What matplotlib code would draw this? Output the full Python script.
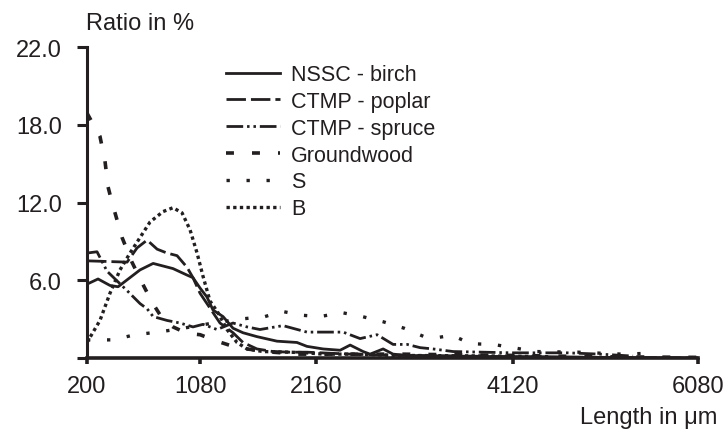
import numpy as np
import matplotlib
matplotlib.use("Agg")
import matplotlib.pyplot as plt

plt.rcParams['font.family'] = ['Liberation Sans', 'DejaVu Sans']

# fibre length (um) and ratio (%)
nssc_len = [200, 286, 379, 442, 613, 715, 870, 979, 1025, 1080, 1145, 1201, 1294, 1387, 1480,
            1610, 1796, 1982, 2075, 2230, 2399, 2499, 2628, 2697, 2827, 2926, 3066, 3500, 4120,
            5000, 6080]
nssc_val = [5.7, 6.1, 5.6, 5.5, 6.8, 7.3, 6.9, 6.4, 6.2, 5.4, 4.7, 3.7, 3.2, 2.3, 1.95,
            1.65, 1.3, 1.2, 0.9, 0.7, 0.6, 1.0, 0.5, 0.3, 0.7, 0.3, 0.2, 0.15, 0.1,
            0.05, 0.0]

poplar_len = [200, 512, 590, 668, 746, 823, 901, 979, 1025, 1080, 1201, 1266, 1387, 1480,
              1610, 1759, 1917, 2075, 2500, 3000, 4120, 6080]
poplar_val = [7.5, 7.4, 8.5, 9.1, 8.4, 8.1, 7.9, 7.0, 6.2, 5.0, 3.5, 2.7, 1.95, 1.2,
              0.7, 0.5, 0.45, 0.45, 0.3, 0.2, 0.1, 0.0]

spruce_len = [200, 278, 356, 512, 613, 668, 715, 823, 924, 1025, 1108, 1238, 1387, 1517,
              1638, 1852, 2075, 2269, 2429, 2598, 2767, 2926, 3066, 3195, 3324, 3523, 3822,
              4120, 4692, 5041, 5390]
spruce_val = [8.1, 8.2, 6.7, 5.2, 4.2, 3.8, 3.2, 2.9, 2.7, 2.4, 2.6, 2.2, 2.7, 2.4,
              2.2, 2.5, 2.0, 2.0, 2.0, 1.5, 1.8, 1.05, 1.05, 0.8, 0.7, 0.5, 0.45,
              0.4, 0.4, 0.3, 0.15]

ground_len = [200, 301, 340, 364, 395, 473, 550, 629, 707, 790, 870, 979, 1080, 1238, 1387,
              1517, 1759, 2000, 2500, 3000, 4120, 5000, 6080]
ground_val = [18.6, 17.1, 15.2, 13.2, 12.0, 9.3, 7.4, 5.8, 4.3, 3.0, 2.4, 1.9, 1.8, 1.3, 0.9,
              0.7, 0.45, 0.3, 0.3, 0.3, 0.2, 0.1, 0.05]

s_len = [200, 403, 574, 754, 950, 1200, 1450, 1685, 1843, 2029, 2200, 2419, 2618, 2827,
         3036, 3235, 3384, 3513, 3702, 3921, 4120, 4353, 4808, 5274, 5496]
s_val = [1.4, 1.4, 1.8, 2.0, 2.3, 2.7, 3.0, 3.2, 3.6, 3.3, 3.2, 3.5, 3.2, 2.8,
         2.3, 1.65, 1.6, 1.75, 1.1, 1.05, 0.8, 0.5, 0.45, 0.3, 0.35]

b_len = [200, 301, 379, 457, 535, 613, 691, 792, 870, 940, 1002, 1057, 1108, 1173, 1247,
         1331, 1424, 1517, 1666, 1917, 2075, 2230, 2500, 3000, 4000, 4500]
b_val = [1.2, 2.9, 5.0, 6.8, 8.1, 9.3, 10.5, 11.3, 11.6, 11.2, 9.9, 8.1, 6.3, 4.4, 3.5,
         2.2, 1.2, 0.7, 0.5, 0.45, 0.4, 0.3, 0.3, 0.2, 0.15, 0.1]

labels = ["NSSC - birch", "CTMP - poplar", "CTMP - spruce", "Groundwood", "S", "B"]

x_tick_vals = [200, 1080, 2160, 4120, 6080]
y_tick_vals = [0, 6, 12, 18, 22]
y_tick_text = ["", "6.0", "12.0", "18.0", "22.0"]

# the axes of the original are not linear: ticks sit at these positions
x_tick_pos = [0, 1.13, 2.29, 4.26, 6.11]
y_tick_pos = [0, 6, 12, 18, 24]


def xp(v):
    return np.interp(v, x_tick_vals, x_tick_pos)


def yp(v):
    return np.interp(v, y_tick_vals, y_tick_pos)


ink = "#231f20"
fig = plt.figure(figsize=(7.25, 4.31), dpi=100)
ax = fig.add_axes([0.12, 0.167, 0.843, 0.7216])

series = [
    (nssc_len, nssc_val, dict(linestyle='-', lw=2.0)),
    (poplar_len, poplar_val, dict(dashes=(7, 1.8), lw=2.0)),
    (spruce_len, spruce_val, dict(dashes=(6, 1.4, 0.9, 1.4, 0.9, 1.4), lw=2.0)),
    (ground_len, ground_val, dict(dashes=(2.2, 5.0), lw=2.6)),
    (s_len, s_val, dict(dashes=(1, 5), lw=2.4)),
    (b_len, b_val, dict(dashes=(1, 1), lw=2.4)),
]
for (xs, ys, st), lab in zip(series, labels):
    ax.plot(xp(xs), yp(ys), color=ink, label=lab, **st)

ax.set_xlim(x_tick_pos[0], x_tick_pos[-1])
ax.set_ylim(0, 24)
ax.set_xticks(x_tick_pos)
ax.set_xticklabels([str(v) for v in x_tick_vals])
ax.set_yticks(y_tick_pos)
ax.set_yticklabels(y_tick_text)

for s in ['top', 'right']:
    ax.spines[s].set_visible(False)
ax.spines['left'].set_linewidth(2.2)
ax.spines['bottom'].set_linewidth(2.6)
ax.spines['left'].set_color(ink)
ax.spines['bottom'].set_color(ink)
ax.tick_params(axis='y', direction='out', length=7, width=2.2, pad=11,
               labelsize=17, colors=ink)
ax.tick_params(axis='x', direction='out', length=4, width=2.6, pad=8,
               labelsize=17, colors=ink)

fig.text(0.119, 0.945, "Ratio in %", fontsize=17, color=ink, ha='left', va='center')
fig.text(0.99, 0.03, "Length in \u03bcm", fontsize=17, color=ink, ha='right', va='center')

leg = ax.legend(loc='upper left', bbox_to_anchor=(0.312, 0.849), bbox_transform=fig.transFigure,
                frameon=False, fontsize=15.5, handlelength=2.5, handletextpad=0.5,
                labelspacing=0.27, borderpad=0, borderaxespad=0)
for t in leg.get_texts():
    t.set_color(ink)

fig.savefig("out.png", dpi=100)
